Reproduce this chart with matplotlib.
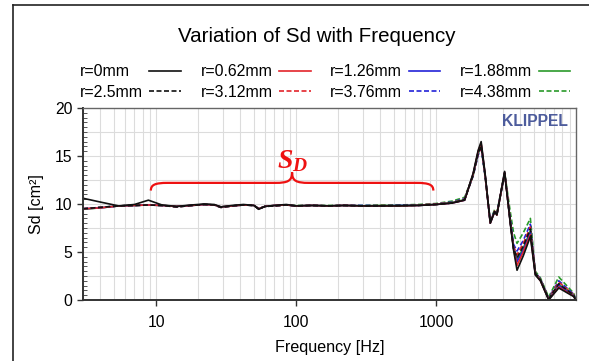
import numpy as np
import matplotlib
matplotlib.use("Agg")
import matplotlib.pyplot as plt
from matplotlib.lines import Line2D
from matplotlib.path import Path
from matplotlib.patches import PathPatch
from matplotlib.ticker import FixedLocator, LogLocator, MultipleLocator, NullFormatter

plt.rcParams['font.family'] = ['Liberation Sans', 'DejaVu Sans']
plt.rcParams['mathtext.fontset'] = 'custom'
plt.rcParams['mathtext.it'] = 'Liberation Serif:italic:bold'
plt.rcParams['mathtext.rm'] = 'Liberation Serif:bold'

# frequency points [Hz]
freq = [3, 4, 5.4, 7, 8.8, 11, 14, 18, 22, 26, 29, 35, 42, 50, 54, 60, 70, 85,
        100, 130, 170, 220, 300, 400, 550, 750, 1000, 1300, 1600, 1840, 2000,
        2100, 2240, 2440, 2620, 2720, 3090, 3390, 3580, 3790, 4200, 4720, 5120,
        5570, 6380, 7530, 9640, 9950]

# Sd [cm^2] per voice coil offset r
sd_r000 = [10.6, 10.2, 9.8, 9.95, 10.4, 9.9, 9.75, 9.9, 10.0, 9.95, 9.7, 9.85, 9.95, 9.85, 9.45, 9.75,
           9.85, 9.95, 9.8, 9.85, 9.8, 9.85, 9.8, 9.8, 9.8, 9.85, 9.95, 10.1, 10.4, 13.2, 15.6,
           16.5, 13.2, 8.0, 9.2, 8.85, 13.4, 8.0, 5.2, 3.1, 4.6, 6.6, 2.6, 2.0, 0.0, 1.25, 0.35, 0.0]
sd_r062 = [9.5, 9.6, 9.8, 9.85, 9.9, 9.85, 9.75, 9.85, 9.95, 9.9, 9.7, 9.8, 9.9, 9.85, 9.5, 9.75,
           9.85, 9.9, 9.8, 9.85, 9.8, 9.85, 9.8, 9.8, 9.8, 9.85, 9.95, 10.1, 10.4, 13.1, 15.5,
           16.3, 13.1, 8.0, 9.2, 8.85, 13.3, 8.1, 5.3, 3.6, 5.0, 6.8, 2.7, 2.0, 0.05, 1.35, 0.4, 0.0]
sd_r126 = [9.5, 9.6, 9.8, 9.85, 9.9, 9.85, 9.75, 9.85, 9.95, 9.9, 9.7, 9.8, 9.9, 9.85, 9.5, 9.75,
           9.85, 9.9, 9.8, 9.85, 9.8, 9.85, 9.8, 9.8, 9.85, 9.85, 9.95, 10.1, 10.4, 13.1, 15.4,
           16.2, 13.1, 8.0, 9.2, 8.9, 13.3, 8.1, 5.4, 4.0, 5.2, 7.0, 2.7, 2.05, 0.05, 1.5, 0.45, 0.0]
sd_r188 = [9.45, 9.6, 9.8, 9.85, 9.9, 9.85, 9.75, 9.85, 9.95, 9.9, 9.7, 9.8, 9.9, 9.85, 9.5, 9.75,
           9.85, 9.9, 9.8, 9.85, 9.8, 9.85, 9.8, 9.85, 9.85, 9.9, 9.95, 10.15, 10.45, 13.0, 15.4,
           16.1, 13.0, 8.05, 9.2, 8.9, 13.2, 8.15, 5.4, 4.2, 5.4, 7.2, 2.75, 2.1, 0.1, 1.6, 0.5, 0.0]
sd_r250 = [9.5, 9.65, 9.8, 9.85, 9.9, 9.85, 9.7, 9.85, 9.95, 9.9, 9.65, 9.8, 9.9, 9.85, 9.5, 9.75,
           9.8, 9.9, 9.8, 9.85, 9.8, 9.85, 9.8, 9.8, 9.85, 9.85, 9.95, 10.1, 10.45, 13.0, 15.3,
           16.0, 13.0, 8.1, 9.2, 8.9, 13.2, 8.2, 5.4, 4.4, 5.6, 7.4, 2.8, 2.1, 0.1, 1.7, 0.5, 0.0]
sd_r312 = [9.5, 9.65, 9.8, 9.85, 9.9, 9.85, 9.7, 9.85, 9.95, 9.9, 9.65, 9.8, 9.9, 9.85, 9.5, 9.75,
           9.8, 9.9, 9.8, 9.85, 9.8, 9.85, 9.8, 9.85, 9.85, 9.9, 10.0, 10.15, 10.5, 13.0, 15.2,
           15.9, 12.9, 8.1, 9.25, 8.95, 13.2, 8.3, 5.6, 4.7, 5.9, 7.6, 2.85, 2.15, 0.15, 1.85, 0.55, 0.0]
sd_r376 = [9.5, 9.65, 9.8, 9.85, 9.9, 9.85, 9.7, 9.85, 9.95, 9.9, 9.65, 9.8, 9.9, 9.85, 9.5, 9.75,
           9.8, 9.9, 9.8, 9.85, 9.8, 9.85, 9.85, 9.85, 9.85, 9.9, 10.0, 10.2, 10.55, 12.9, 15.1,
           15.8, 12.9, 8.15, 9.3, 9.0, 13.1, 8.5, 5.8, 5.1, 6.2, 7.9, 2.9, 2.2, 0.2, 2.0, 0.6, 0.0]
sd_r438 = [9.5, 9.65, 9.8, 9.85, 9.9, 9.85, 9.7, 9.85, 9.95, 9.9, 9.65, 9.8, 9.9, 9.85, 9.5, 9.75,
           9.8, 9.9, 9.85, 9.85, 9.85, 9.85, 9.85, 9.9, 9.9, 9.95, 10.05, 10.3, 10.7, 13.0, 15.2,
           15.9, 13.0, 8.3, 9.4, 9.1, 13.3, 9.2, 7.0, 5.9, 7.0, 8.5, 3.0, 2.3, 0.3, 2.4, 0.7, 0.0]

labels = ['r=0mm', 'r=2.5mm', 'r=0.62mm', 'r=3.12mm', 'r=1.26mm', 'r=3.76mm', 'r=1.88mm', 'r=4.38mm']
series = [sd_r000, sd_r250, sd_r062, sd_r312, sd_r126, sd_r376, sd_r188, sd_r438]
colors = ['#111111', '#111111', '#e3242b', '#e3242b', '#2222d8', '#2222d8', '#2a9a2a', '#2a9a2a']
dashed = [False, True, False, True, False, True, False, True]

fig = plt.figure(figsize=(5.89, 3.61), dpi=100)
ax = fig.add_axes([83 / 589, 1 - 300 / 361, 493 / 589, 192 / 361])

# colored first, black on top
order = [7, 5, 3, 6, 4, 2, 1, 0]
handles = {}
for i in order:
    ls = (0, (3, 1.5)) if dashed[i] else '-'
    h, = ax.plot(freq, series[i], color=colors[i], lw=1.2, linestyle=ls, label=labels[i])
    handles[i] = h

ax.set_xscale('log')
ax.set_xlim(3, 10000)
ax.set_ylim(0, 20)

ax.xaxis.set_major_locator(FixedLocator([10, 100, 1000]))
ax.xaxis.set_major_formatter(plt.FuncFormatter(lambda v, p: '%d' % v))
ax.xaxis.set_minor_locator(LogLocator(base=10, subs=np.arange(2, 10)))
ax.xaxis.set_minor_formatter(NullFormatter())
ax.yaxis.set_major_locator(MultipleLocator(5))
ax.yaxis.set_minor_locator(MultipleLocator(0.5))

ax.grid(True, which='both', axis='x', color='#dcdcdc', lw=0.8)
for yv in np.arange(2.5, 20, 2.5):
    ax.axhline(yv, color='#dcdcdc', lw=0.8, zorder=0)
ax.set_axisbelow(True)

ax.tick_params(axis='both', which='major', labelsize=11.3, length=4, width=1, color='#333333')
ax.tick_params(axis='x', which='major', pad=7)
ax.tick_params(axis='x', which='minor', length=0)
ax.tick_params(axis='y', which='minor', direction='in', length=3, width=0.7, color='#555555')

for side in ['left', 'bottom']:
    ax.spines[side].set_color('#333333')
    ax.spines[side].set_linewidth(1.4)
for side in ['top', 'right']:
    ax.spines[side].set_color('#666666')
    ax.spines[side].set_linewidth(1.0)

ax.set_xlabel('Frequency [Hz]', fontsize=11.6, labelpad=7)
ax.set_ylabel('Sd [cm²]', fontsize=11.6, labelpad=8)

fig.text(317 / 589, 1 - 36 / 361, 'Variation of Sd with Frequency', fontsize=14.8,
         ha='center', va='center')

ax.text(0.983, 0.93, 'KLIPPEL', transform=ax.transAxes, ha='right', va='center',
        fontsize=11.3, fontweight='bold', color='#4d5c9c')

leg = fig.legend([handles[i] for i in range(8)], labels, loc='center',
                 bbox_to_anchor=(325 / 589, 1 - 82 / 361), ncol=4, frameon=False,
                 markerfirst=False, fontsize=11.4, handlelength=2.0, handletextpad=0.4,
                 columnspacing=1.25, labelspacing=0.32, borderpad=0)

# left-align labels inside each legend column (handles stay at the right edge)
try:
    fig.canvas.draw()
    renderer = fig.canvas.get_renderer()
    px2pt = 72.0 / fig.dpi
    for col in leg._legend_handle_box.get_children():
        entries = col.get_children()
        widths = [e.get_children()[0].get_bbox(renderer).width for e in entries]
        wmax = max(widths)
        for e, w in zip(entries, widths):
            e.sep = e.sep + (wmax - w) * px2pt
except Exception:
    pass

# curly brace marking the S_D band (9 Hz .. 950 Hz)
L, R = np.log10(9.16), np.log10(956)
C = (L + R) / 2
r = 0.12
pts = [(L, 11.4), (L, 12.0), (L + 0.03, 12.2), (L + r, 12.2),
       (C - r, 12.2),
       (C - 0.03, 12.2), (C, 12.4), (C, 13.3),
       (C, 12.4), (C + 0.03, 12.2), (C + r, 12.2),
       (R - r, 12.2),
       (R - 0.03, 12.2), (R, 12.0), (R, 11.4)]
codes = [Path.MOVETO, Path.CURVE4, Path.CURVE4, Path.CURVE4,
         Path.LINETO,
         Path.CURVE4, Path.CURVE4, Path.CURVE4,
         Path.CURVE4, Path.CURVE4, Path.CURVE4,
         Path.LINETO,
         Path.CURVE4, Path.CURVE4, Path.CURVE4]
verts = [(10 ** x, y) for x, y in pts]
ax.add_patch(PathPatch(Path(verts, codes), fill=False, edgecolor='#ee1111', lw=1.6))
ax.text(10 ** C, 14.5, r'$S_D$', color='#ee1111', fontsize=20, ha='center', va='center')

# outer frame (left and top edges of the screenshot)
fig.add_artist(Line2D([13 / 589, 13 / 589], [0, 1 - 5 / 361], color='#222222', lw=1.2))
fig.add_artist(Line2D([13 / 589, 1], [1 - 5 / 361, 1 - 5 / 361], color='#222222', lw=1.2))

fig.savefig('out.png', dpi=100)
